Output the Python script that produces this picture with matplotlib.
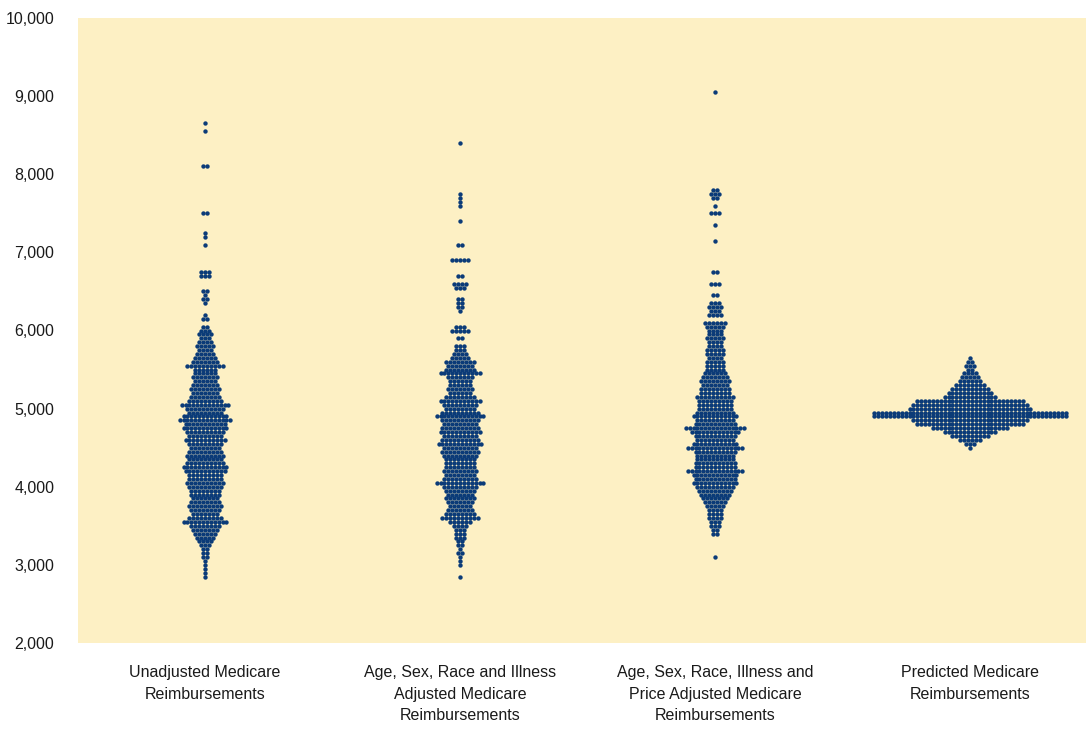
import numpy as np
import matplotlib
matplotlib.use("Agg")
import matplotlib.pyplot as plt
from matplotlib.ticker import FuncFormatter

plt.rcParams['font.family'] = ['Liberation Sans', 'DejaVu Sans']

categories = [
    "Unadjusted Medicare\nReimbursements",
    "Age, Sex, Race and Illness\nAdjusted Medicare\nReimbursements",
    "Age, Sex, Race, Illness and\nPrice Adjusted Medicare\nReimbursements",
    "Predicted Medicare\nReimbursements",
]

# Each series: binned reimbursement values ($) and the number of regions in each bin
s1_values = [8650, 8550, 8100, 7500, 7250, 7200, 7100, 6750, 6700, 6500, 6450, 6400, 6350,
             6200, 6150, 6050, 6000, 5950, 5900, 5850, 5800, 5750, 5700, 5650, 5600, 5550,
             5500, 5450, 5400, 5350, 5300, 5250, 5200, 5150, 5100, 5050, 5000, 4950, 4900,
             4850, 4800, 4750, 4700, 4650, 4600, 4550, 4500, 4450, 4400, 4350, 4300, 4250,
             4200, 4150, 4100, 4050, 4000, 3950, 3900, 3850, 3800, 3750, 3700, 3650, 3600,
             3550, 3500, 3450, 3400, 3350, 3300, 3250, 3200, 3150, 3100, 3050, 3000, 2950,
             2900, 2850]
s1_counts = [1, 1, 2, 2, 1, 1, 1, 3, 3, 2, 1, 2, 1,
             1, 2, 2, 3, 4, 3, 4, 5, 4, 5, 6, 7, 10,
             6, 6, 7, 6, 7, 8, 7, 8, 9, 13, 10, 9, 12,
             14, 11, 12, 10, 9, 11, 9, 8, 9, 10, 9, 10, 12,
             11, 9, 9, 10, 9, 8, 8, 7, 8, 9, 8, 7, 9,
             12, 8, 7, 6, 5, 4, 3, 2, 2, 2, 1, 1, 1,
             1, 1]

s2_values = [8400, 7750, 7700, 7650, 7600, 7400, 7100, 6900, 6700, 6600, 6550, 6400, 6350,
             6300, 6250, 6050, 6000, 5900, 5800, 5750, 5700, 5650, 5600, 5550, 5500, 5450,
             5400, 5350, 5300, 5250, 5200, 5150, 5100, 5050, 5000, 4950, 4900, 4850, 4800,
             4750, 4700, 4650, 4600, 4550, 4500, 4450, 4400, 4350, 4300, 4250, 4200, 4150,
             4100, 4050, 4000, 3950, 3900, 3850, 3800, 3750, 3700, 3650, 3600, 3550, 3500,
             3450, 3400, 3350, 3300, 3250, 3200, 3150, 3100, 3050, 3000, 2850]
s2_counts = [1, 1, 1, 1, 1, 1, 2, 5, 2, 4, 3, 2, 2,
             2, 1, 3, 5, 2, 3, 3, 4, 5, 8, 7, 8, 11,
             7, 6, 6, 7, 6, 8, 11, 9, 8, 10, 13, 10, 9,
             10, 11, 9, 10, 12, 9, 10, 9, 8, 8, 8, 9, 8,
             9, 13, 9, 8, 7, 8, 7, 6, 7, 8, 10, 6, 4,
             3, 3, 3, 2, 2, 1, 2, 1, 1, 1, 1]

s3_values = [9050, 7800, 7750, 7700, 7600, 7500, 7350, 7150, 6750, 6600, 6450, 6350, 6300,
             6250, 6200, 6100, 6050, 6000, 5950, 5900, 5850, 5800, 5750, 5700, 5650, 5600,
             5550, 5500, 5450, 5400, 5350, 5300, 5250, 5200, 5150, 5100, 5050, 5000, 4950,
             4900, 4850, 4800, 4750, 4700, 4650, 4600, 4550, 4500, 4450, 4400, 4350, 4300,
             4250, 4200, 4150, 4100, 4050, 4000, 3950, 3900, 3850, 3800, 3750, 3700, 3650,
             3600, 3550, 3500, 3450, 3400, 3100]
s3_counts = [1, 2, 3, 2, 1, 3, 1, 1, 2, 3, 2, 3, 4,
             3, 4, 6, 5, 4, 4, 5, 4, 4, 5, 5, 4, 5,
             5, 5, 6, 7, 8, 7, 8, 8, 10, 9, 9, 9, 10,
             12, 10, 11, 16, 13, 11, 10, 12, 15, 11, 10, 10, 11,
             11, 15, 12, 11, 12, 10, 9, 8, 7, 6, 5, 4, 4,
             4, 3, 3, 2, 2, 1]

s4_values = [5650, 5600, 5550, 5500, 5450, 5400, 5350, 5300, 5250, 5200, 5150, 5100, 5050,
             5000, 4950, 4900, 4850, 4800, 4750, 4700, 4650, 4600, 4550, 4500]
s4_counts = [1, 2, 3, 2, 4, 5, 6, 8, 10, 12, 14, 28, 30,
             32, 50, 50, 30, 28, 20, 14, 10, 6, 3, 1]

yticks = [2000, 3000, 4000, 5000, 6000, 7000, 8000, 9000, 10000]

series = [(s1_values, s1_counts), (s2_values, s2_counts),
          (s3_values, s3_counts), (s4_values, s4_counts)]

W, H = 1086, 731
fig = plt.figure(figsize=(W / 100, H / 100), dpi=100)
fig.patch.set_facecolor('white')
ax = fig.add_axes([78 / W, 1 - 643 / H, 1008 / W, 625 / H])
ax.set_facecolor('#FDF0C4')

dx = 3.9 / 255.0  # horizontal dot spacing in category units
dot_color = '#0B3B78'
for i, (vals, cnts) in enumerate(series):
    xs, ys = [], []
    for v, c in zip(vals, cnts):
        offs = (np.arange(c) - (c - 1) / 2.0) * dx
        xs.extend(i + 1 + offs)
        ys.extend([v] * c)
    ax.scatter(xs, ys, s=10, color=dot_color, linewidths=0, zorder=3)

ax.set_xlim(1 - 127 / 255, 1 + 881 / 255)
ax.set_ylim(2000, 10000)
ax.set_yticks(yticks)
ax.yaxis.set_major_formatter(FuncFormatter(lambda v, p: f"{int(v):,}"))
ax.set_xticks([1, 2, 3, 4])
ax.set_xticklabels(categories, linespacing=1.55)
ax.tick_params(axis='both', length=0, labelsize=11.5, colors='#1a1a1a')
ax.tick_params(axis='x', pad=16)
ax.tick_params(axis='y', pad=17)
for sp in ax.spines.values():
    sp.set_visible(False)

fig.savefig('out.png', dpi=100, facecolor='white')
